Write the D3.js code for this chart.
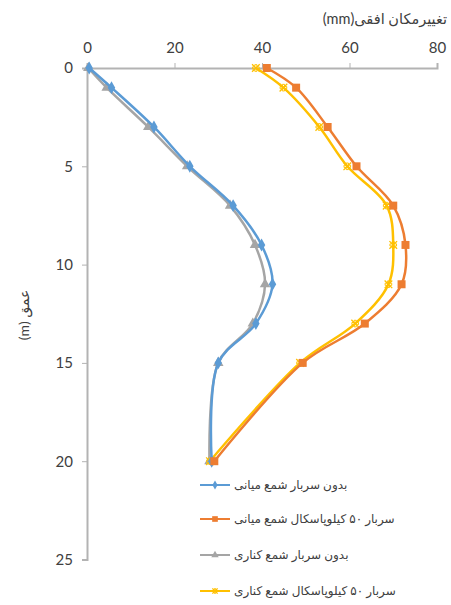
<!DOCTYPE html>
<html lang="fa">
<head>
<meta charset="UTF-8">
<script src="https://cdn.jsdelivr.net/npm/d3@7"></script>
<style>
  body { margin: 0; background: #fff; }
  text { font-family: Lato, "DejaVu Sans", sans-serif; fill: #404040; }
</style>
</head>
<body>
<div id="chart"></div>
<script>
// depths (m)
const depths = [0, 1, 3, 5, 7, 9, 11, 13, 15, 20];

// horizontal displacement (mm) per series
const midNoLoad = [0.5, 5.6, 15.3, 23.5, 33.4, 39.9, 42.4, 38.6, 30.0, 28.5];
const mid50kPa = [41.1, 47.8, 55.0, 61.6, 70.0, 72.8, 71.9, 63.5, 49.3, 29.1];
const edgeNoLoad = [0.3, 4.5, 14.0, 22.9, 32.7, 38.4, 40.7, 37.9, 30.0, 28.0];
const edge50kPa = [38.6, 44.9, 53.1, 59.5, 68.5, 70.0, 68.9, 61.3, 48.7, 28.1];

const seriesNames = [
  "بدون سربار شمع میانی",
  "سربار ۵۰ کیلوپاسکال شمع میانی",
  "بدون سربار شمع کناری",
  "سربار ۵۰ کیلوپاسکال شمع کناری"
];
const xTicks = [0, 20, 40, 60, 80];
const yTicks = [0, 5, 10, 15, 20, 25];

const colors = ["#5b9bd5", "#ed7d31", "#a5a5a5", "#ffc000"];
const markers = ["diamond", "square", "triangle", "cross"];
const values = [midNoLoad, mid50kPa, edgeNoLoad, edge50kPa];

const width = 451, height = 605;
const margin = {left: 87, right: 14, top: 68, bottom: 45.5};

const svg = d3.select("#chart").append("svg")
  .attr("width", width)
  .attr("height", height);

const x = d3.scaleLinear().domain([0, 80]).range([margin.left, width - margin.right]);
const y = d3.scaleLinear().domain([0, 25]).range([margin.top, height - margin.bottom]);

// axes
const xAxis = svg.append("g")
  .attr("transform", `translate(0,${y(0)})`)
  .call(d3.axisTop(x).tickValues(xTicks).tickSize(5).tickPadding(10));
const yAxis = svg.append("g")
  .attr("transform", `translate(${x(0)},0)`)
  .call(d3.axisLeft(y).tickValues(yTicks).tickSize(5).tickPadding(9));

[xAxis, yAxis].forEach(g => {
  g.select(".domain").attr("stroke", "#b3b3b3").attr("stroke-width", 2);
  g.selectAll(".tick line").attr("stroke", "#b3b3b3").attr("stroke-width", 1);
  g.selectAll(".tick text").style("font-size", "15px").attr("fill", "#333");
});

// axis titles
svg.append("text")
  .attr("x", 447)
  .attr("y", 24)
  .attr("direction", "rtl")
  .attr("text-anchor", "start")
  .style("font-size", "14.5px")
  .attr("fill", "#333")
  .text("تغییرمکان افقی(mm)");

svg.append("text")
  .attr("transform", `translate(29,315) rotate(-90)`)
  .attr("direction", "rtl")
  .attr("text-anchor", "middle")
  .style("font-size", "14px")
  .attr("fill", "#333")
  .text("عمق (m)");

const line = d3.line()
  .x(d => x(d[0]))
  .y(d => y(d[1]))
  .curve(d3.curveCatmullRom.alpha(0.5));

function drawMarker(g, type, color, size) {
  if (type === "diamond") {
    g.append("path").attr("d", d3.symbol(d3.symbolDiamond, size * 6)()).attr("fill", color);
  } else if (type === "square") {
    g.append("path").attr("d", d3.symbol(d3.symbolSquare, size * 8)()).attr("fill", color);
  } else if (type === "triangle") {
    g.append("path").attr("d", d3.symbol(d3.symbolTriangle, size * 6)()).attr("fill", color);
  } else {
    g.append("path").attr("d", d3.symbol(d3.symbolX, size * 5)())
      .attr("fill", "none").attr("stroke", color).attr("stroke-width", 1.3);
    g.append("path").attr("d", d3.symbol(d3.symbolCross, size * 3)())
      .attr("fill", "none").attr("stroke", color).attr("stroke-width", 1);
  }
}

// draw series: gray & yellow underneath, then blue & orange
[2, 3, 0, 1].forEach(i => {
  const pts = depths.map((d, k) => [values[i][k], d]);
  svg.append("path")
    .datum(pts)
    .attr("d", line)
    .attr("fill", "none")
    .attr("stroke", colors[i])
    .attr("stroke-width", 2.5);
  pts.forEach(p => {
    const g = svg.append("g").attr("transform", `translate(${x(p[0])},${y(p[1])})`);
    drawMarker(g, markers[i], colors[i], 8);
  });
});

// legend
const legendY = [485, 519, 555, 591];
seriesNames.forEach((name, i) => {
  const g = svg.append("g").attr("transform", `translate(200,${legendY[i]})`);
  g.append("line")
    .attr("x1", 0).attr("x2", 30).attr("y1", 0).attr("y2", 0)
    .attr("stroke", colors[i]).attr("stroke-width", 2);
  const m = g.append("g").attr("transform", "translate(15,0)");
  drawMarker(m, markers[i], colors[i], 4);
  g.append("text")
    .attr("x", 34)
    .attr("y", 4)
    .attr("direction", "rtl")
    .attr("text-anchor", "end")
    .style("font-size", "12px")
    .attr("fill", "#404040")
    .text(name);
});
</script>
</body>
</html>
